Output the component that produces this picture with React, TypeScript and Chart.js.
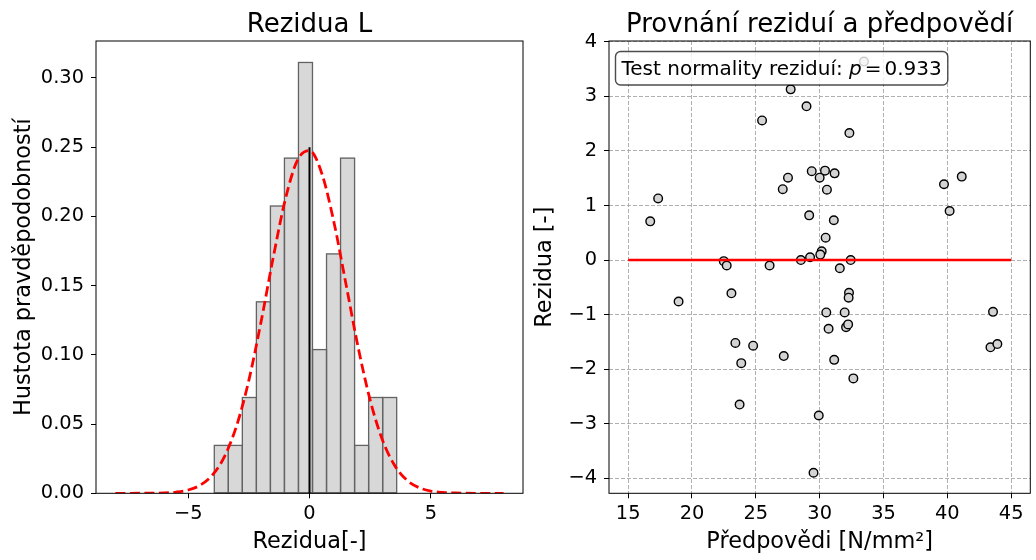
import React, { useEffect, useRef } from 'react';
import { Chart, registerables } from 'chart.js';

Chart.register(...registerables);

const FONT = "'DejaVu Sans', sans-serif";

// ---- Left panel: histogram of residuals ----
const histTitle = 'Rezidua L';
const histXLabel = 'Rezidua[-]';
const histYLabel = 'Hustota pravděpodobností';
const binCenters = [-3.635, -3.057, -2.479, -1.9, -1.322, -0.744, -0.166, 0.413, 0.991, 1.569, 2.148, 2.726, 3.304];
const binDensity = [0.0346, 0.0346, 0.0692, 0.1383, 0.2075, 0.2421, 0.3112, 0.1038, 0.1729, 0.2421, 0.0346, 0.0692, 0.0692];
const curveX = [-8, -7, -6, -5.5, -5, -4.5, -4, -3.5, -3, -2.5, -2, -1.5, -1, -0.5, 0, 0.5, 1, 1.5, 2, 2.5, 3, 3.5, 4, 4.5, 5, 5.5, 6, 7, 8];
const curveY = [0.0, 0.00003, 0.0003, 0.0009, 0.0024, 0.0059, 0.0132, 0.0267, 0.049, 0.0816, 0.1236, 0.1699, 0.2121, 0.2405, 0.2475, 0.2314, 0.1964, 0.1514, 0.1059, 0.0673, 0.0388, 0.0204, 0.0097, 0.0042, 0.0016, 0.0006, 0.0002, 0.00001, 0.0];
const meanLineX = [0, 0];
const meanLineY = [0, 0.25];
const histXRange = [-8.8, 8.8];
const histYRange = [0, 0.3267];
const histXTicks = [-5, 0, 5];
const histYTicks = [0, 0.05, 0.1, 0.15, 0.2, 0.25, 0.3];

// ---- Right panel: residuals vs predictions ----
const scatTitle = 'Provnání reziduí a předpovědí';
const scatXLabel = 'Předpovědi [N/mm²]';
const scatYLabel = 'Rezidua [-]';
const predictions = [
  33.47, 27.73, 28.97, 25.49, 32.33, 29.38, 30.42, 31.17, 27.52, 30.0,
  27.11, 30.57, 39.74, 41.13, 40.18, 17.35, 16.73, 29.18, 31.11, 30.47,
  30.16, 30.05, 29.25, 28.53, 32.43, 22.49, 22.72, 26.08, 31.58, 23.09,
  18.95, 32.3, 32.27, 30.52, 31.96, 43.58, 30.7, 32.07, 32.23, 23.4,
  24.79, 43.38, 43.92, 27.19, 31.14, 23.86, 32.64, 23.73, 29.93, 29.52,
];
const residuals = [
  3.64, 3.13, 2.82, 2.56, 2.33, 1.63, 1.64, 1.59, 1.51, 1.51,
  1.3, 1.29, 1.39, 1.53, 0.9, 1.13, 0.71, 0.82, 0.73, 0.41,
  0.16, 0.1, 0.05, 0.0, 0.0, -0.02, -0.1, -0.1, -0.15, -0.61,
  -0.76, -0.6, -0.69, -0.96, -0.96, -0.95, -1.26, -1.23, -1.18, -1.52,
  -1.57, -1.6, -1.54, -1.76, -1.83, -1.89, -2.17, -2.65, -2.85, -3.9,
];
const zeroLineX = [15, 45];
const zeroLineY = [0, 0];
const scatXRange = [13.5, 46.5];
const scatYRange = [-4.277, 4.017];
const scatXTicks = [15, 20, 25, 30, 35, 40, 45];
const scatYTicks = [-4, -3, -2, -1, 0, 1, 2, 3, 4];
const boxTextMain = 'Test normality reziduí: ';
const boxTextVar = 'p';
const boxTextValue = '0.933';

const fmtNum = (v: number) => (v < 0 ? '\u2212' + Math.abs(v) : String(v));

const TICK_FONT = { family: FONT, size: 19.4 };
const LABEL_FONT = { family: FONT, size: 22.4 };
const TITLE_SIZE = 26;
const BOX_SIZE = 20;

function fixedTicks(list: number[]) {
  return (scale: any) => {
    scale.ticks = list.map((v) => ({ value: v }));
  };
}

function framePlugin(title: string) {
  return {
    id: 'frame_' + title.length,
    afterDatasetsDraw(chart: any) {
      const { ctx, chartArea } = chart;
      ctx.save();
      ctx.strokeStyle = '#000';
      ctx.lineWidth = 1;
      ctx.strokeRect(chartArea.left, chartArea.top, chartArea.right - chartArea.left, chartArea.bottom - chartArea.top);
      ctx.restore();
    },
    afterDraw(chart: any) {
      const { ctx, chartArea } = chart;
      ctx.save();
      ctx.fillStyle = '#000';
      ctx.font = `${TITLE_SIZE}px ${FONT}`;
      ctx.textAlign = 'center';
      ctx.textBaseline = 'alphabetic';
      ctx.fillText(title, (chartArea.left + chartArea.right) / 2, chartArea.top - 9);
      ctx.restore();
    },
  };
}

const barOutlinePlugin = {
  id: 'barOutline',
  afterDatasetDraw(chart: any, args: any) {
    if (args.meta.type !== 'bar') return;
    const ctx = chart.ctx;
    ctx.save();
    ctx.strokeStyle = '#636363';
    ctx.lineWidth = 1.3;
    for (const el of args.meta.data) {
      const p = el.getProps(['x', 'y', 'base', 'width'], true);
      ctx.strokeRect(p.x - p.width / 2, p.y, p.width, p.base - p.y);
    }
    ctx.restore();
  },
};

const textBoxPlugin = {
  id: 'textBox',
  afterDatasetsDraw(chart: any) {
    const { ctx, chartArea } = chart;
    ctx.save();
    const x0 = chartArea.left + 12.5;
    const baseY = chartArea.top + 34;
    const f = `${BOX_SIZE}px ${FONT}`;
    const fi = `italic ${BOX_SIZE}px ${FONT}`;
    ctx.font = f;
    const w1 = ctx.measureText(boxTextMain).width;
    ctx.font = fi;
    const w2 = ctx.measureText(boxTextVar).width;
    ctx.font = f;
    const wEq = ctx.measureText('=').width;
    const w3 = ctx.measureText(boxTextValue).width;
    const gap = 3;
    const total = w1 + w2 + gap + wEq + gap + w3;
    const bx = x0 - 6;
    const by = chartArea.top + 10.5;
    const bw = total + 12;
    const bh = 33.5;
    ctx.beginPath();
    ctx.roundRect(bx, by, bw, bh, 5);
    ctx.fillStyle = 'rgba(255,255,255,0.8)';
    ctx.fill();
    ctx.strokeStyle = 'rgba(0,0,0,0.7)';
    ctx.lineWidth = 1.4;
    ctx.stroke();
    ctx.fillStyle = '#000';
    ctx.textBaseline = 'alphabetic';
    ctx.textAlign = 'left';
    let x = x0;
    ctx.font = f;
    ctx.fillText(boxTextMain, x, baseY);
    x += w1;
    ctx.font = fi;
    ctx.fillText(boxTextVar, x, baseY);
    x += w2 + gap;
    ctx.font = f;
    ctx.fillText('=', x, baseY);
    x += wEq + gap;
    ctx.fillText(boxTextValue, x, baseY);
    ctx.restore();
  },
};

function axisBase(opts: any) {
  return {
    type: 'linear',
    offset: false,
    ticks: {
      color: '#000',
      font: TICK_FONT,
      padding: opts.tickPad,
      autoSkip: false,
      maxRotation: 0,
      callback: opts.callback,
    },
    grid: {
      display: true,
      offset: false,
      drawOnChartArea: opts.gridOn,
      drawTicks: true,
      tickLength: 5,
      tickColor: '#000',
      tickWidth: 1,
      tickBorderDash: [],
      color: '#b0b0b0',
      lineWidth: 1,
      borderDash: [4, 2],
    },
    border: { display: false, dash: [4, 2] },
    title: {
      display: true,
      text: opts.title,
      color: '#000',
      font: LABEL_FONT,
      padding: opts.titlePad,
    },
  };
}

export default function App() {
  const leftRef = useRef<HTMLCanvasElement | null>(null);
  const rightRef = useRef<HTMLCanvasElement | null>(null);

  useEffect(() => {
    const bars = binCenters.map((c, i) => ({ x: c, y: binDensity[i] }));
    const curve = curveX.map((x, i) => ({ x, y: curveY[i] }));
    const meanLine = meanLineX.map((x, i) => ({ x, y: meanLineY[i] }));

    const left = new Chart(leftRef.current as HTMLCanvasElement, {
      type: 'bar',
      data: {
        datasets: [
          {
            type: 'line',
            data: curve,
            borderColor: '#ff0000',
            borderWidth: 2.8,
            borderDash: [10, 4.5],
            pointRadius: 0,
            cubicInterpolationMode: 'monotone',
            fill: false,
            order: 0,
          } as any,
          {
            type: 'line',
            data: meanLine,
            borderColor: '#000',
            borderWidth: 2,
            pointRadius: 0,
            fill: false,
            order: 1,
          } as any,
          {
            type: 'bar',
            data: bars,
            backgroundColor: '#d8d8d8',
            borderWidth: 0,
            barPercentage: 1,
            categoryPercentage: 1,
            order: 2,
          } as any,
        ],
      },
      options: {
        animation: false,
        responsive: false,
        devicePixelRatio: 1,
        layout: { padding: { top: 41, right: 7, left: 0, bottom: 0 } },
        plugins: { legend: { display: false }, tooltip: { enabled: false }, title: { display: false } },
        scales: {
          x: {
            ...axisBase({ tickPad: 4, gridOn: false, title: histXLabel, titlePad: { top: 0, bottom: 4.5 }, callback: (v: any) => fmtNum(Number(v)) }),
            min: histXRange[0],
            max: histXRange[1],
            afterBuildTicks: fixedTicks(histXTicks),
            afterFit: (s: any) => {
              s.height = 66.7;
            },
          },
          y: {
            ...axisBase({ tickPad: 7, gridOn: false, title: histYLabel, titlePad: { top: 11, bottom: 0 }, callback: (v: any) => Number(v).toFixed(2) }),
            min: histYRange[0],
            max: histYRange[1],
            afterBuildTicks: fixedTicks(histYTicks),
            afterFit: (s: any) => {
              s.width = 96;
            },
          },
        } as any,
      },
      plugins: [framePlugin(histTitle), barOutlinePlugin],
    } as any);

    const pts = predictions.map((x, i) => ({ x, y: residuals[i] }));
    const zero = zeroLineX.map((x, i) => ({ x, y: zeroLineY[i] }));

    const right = new Chart(rightRef.current as HTMLCanvasElement, {
      type: 'scatter',
      data: {
        datasets: [
          {
            type: 'line',
            data: zero,
            borderColor: '#ff0000',
            borderWidth: 2.4,
            pointRadius: 0,
            fill: false,
            order: 0,
          } as any,
          {
            type: 'scatter',
            data: pts,
            pointRadius: 4.3,
            pointBackgroundColor: '#d3d3d3',
            pointBorderColor: '#000',
            pointBorderWidth: 1.4,
            order: 1,
          } as any,
        ],
      },
      options: {
        animation: false,
        responsive: false,
        devicePixelRatio: 1,
        layout: { padding: { top: 41, right: 1, left: 0, bottom: 0 } },
        plugins: { legend: { display: false }, tooltip: { enabled: false }, title: { display: false } },
        scales: {
          x: {
            ...axisBase({ tickPad: 4, gridOn: true, title: scatXLabel, titlePad: { top: 0, bottom: 4.5 }, callback: (v: any) => fmtNum(Number(v)) }),
            min: scatXRange[0],
            max: scatXRange[1],
            afterBuildTicks: fixedTicks(scatXTicks),
            afterFit: (s: any) => {
              s.height = 66.7;
            },
          },
          y: {
            ...axisBase({ tickPad: 7, gridOn: true, title: scatYLabel, titlePad: { top: 2, bottom: 0 }, callback: (v: any) => fmtNum(Number(v)) }),
            min: scatYRange[0],
            max: scatYRange[1],
            afterBuildTicks: fixedTicks(scatYTicks),
            afterFit: (s: any) => {
              s.width = 79;
            },
          },
        } as any,
      },
      plugins: [framePlugin(scatTitle), textBoxPlugin],
    } as any);

    return () => {
      left.destroy();
      right.destroy();
    };
  }, []);

  return (
    <div style={{ position: 'fixed', left: 0, top: 0, width: 1036, height: 560, background: '#fff' }}>
      <canvas ref={leftRef} width={530} height={560} style={{ position: 'absolute', left: 0, top: 0, width: 530, height: 560 }} />
      <canvas ref={rightRef} width={506} height={560} style={{ position: 'absolute', left: 530, top: 0, width: 506, height: 560 }} />
    </div>
  );
}
